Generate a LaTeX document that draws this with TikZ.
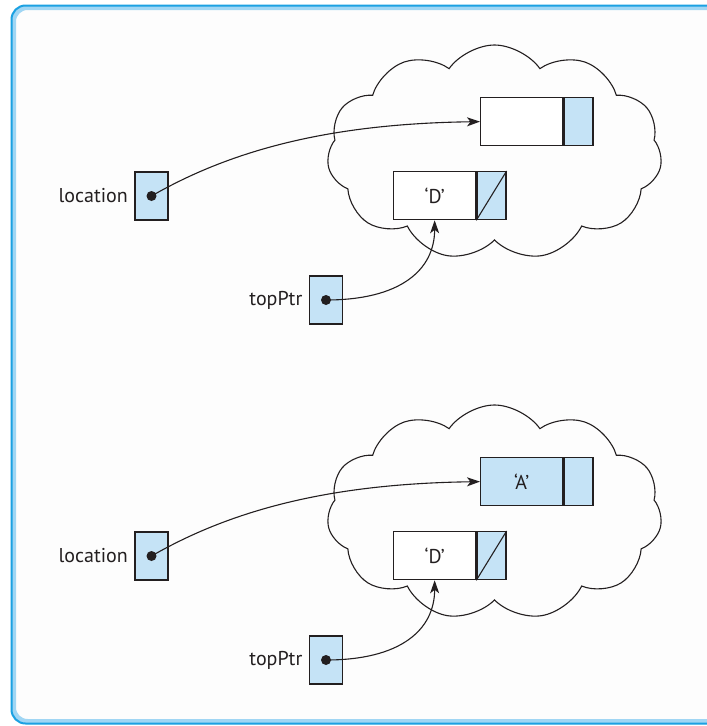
\documentclass[tikz,border=0pt]{standalone}
\usepackage{fontspec}
\setmainfont{PT Sans}
\usetikzlibrary{shapes.symbols,arrows.meta,positioning}
\definecolor{cellblue}{RGB}{197,227,246}
\definecolor{frameblue}{RGB}{27,161,226}
\definecolor{framelight}{RGB}{160,214,244}
\definecolor{ink}{RGB}{35,31,32}
\definecolor{paper}{RGB}{253,253,253}
\begin{document}
\begin{tikzpicture}[x=1pt,y=-1pt,
 every node/.style={font=\fontsize{20}{23}\selectfont, text=ink},
 cellbox/.style={draw=ink, line width=1.3pt, fill=white, minimum width=82pt, minimum height=48pt, inner sep=0pt, anchor=north west},
 linkbox/.style={draw=ink, line width=1.3pt, fill=cellblue, minimum width=29pt, minimum height=48pt, inner sep=0pt, anchor=north west},
 ptrbox/.style={draw=ink, line width=1.3pt, fill=cellblue, minimum width=33pt, minimum height=48pt, inner sep=0pt},
 dotnode/.style={circle, fill=ink, inner sep=0pt, minimum size=10pt},
 heap/.style={cloud, cloud puffs=11, cloud puff arc=110, cloud ignores aspect, draw=ink, line width=1.1pt, fill=paper, minimum width=335pt, minimum height=215pt, inner sep=0pt},
 link/.style={draw=ink, line width=1.1pt, -{Stealth[length=13pt,width=9pt,inset=3.5pt]}},
]
\useasboundingbox (0,0) rectangle (707,726);
\fill[white] (0,0) rectangle (707,726);
\draw[rounded corners=14pt, fill=paper, draw=framelight, line width=5pt] (13.5,7.5) rectangle (740,721.5);
\draw[rounded corners=14pt, draw=frameblue, line width=2pt] (11.5,5.5) rectangle (740,723.5);
\foreach \dy/\s/\afill/\atext in {0/a/white/{}, 360/b/cellblue/{‘A’}}{
 \begin{scope}[shift={(0,\dy)}]
  \node[heap] (cloud\s) at (494.5,152.5) {};
  \node[cellbox, fill=\afill] (data1\s) at (480,97) {\atext};
  \node[linkbox] (next1\s) at (data1\s.north east) {};
  \node[cellbox] (data2\s) at (393,171) {‘D’};
  \node[linkbox] (next2\s) at (data2\s.north east) {};
  \draw[ink, line width=1.1pt] (next2\s.south west) -- (next2\s.north east);
  \node[ptrbox] (loc\s) at (151.5,196) {};
  \node[left=3pt of loc\s] (loclabel\s) {location};
  \node[ptrbox] (top\s) at (326,300) {};
  \node[left=3pt of top\s] (toplabel\s) {topPtr};
  \node[dotnode] (locdot\s) at (loc\s.center) {};
  \node[dotnode] (topdot\s) at (top\s.center) {};
  \draw[link] (locdot\s.center) .. controls +(80,-46) and +(-150,2) .. (data1\s.west);
  \draw[link] (topdot\s.center) .. controls +(74,0) and +(0,50) .. (data2\s.south);
 \end{scope}
}
\end{tikzpicture}
\end{document}
